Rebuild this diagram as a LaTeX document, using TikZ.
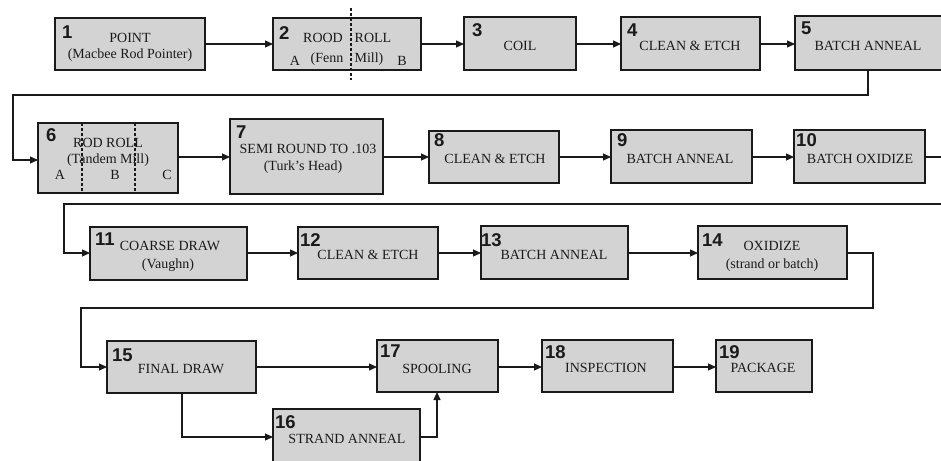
\documentclass[tikz,border=0pt]{standalone}
\usepackage{fontspec}
\setmainfont{Liberation Serif}
\newfontfamily\numfont{Liberation Sans}
\usetikzlibrary{arrows.meta}
\definecolor{boxfill}{HTML}{D3D3D3}
\definecolor{inkline}{HTML}{1A1A1A}
\tikzset{
  stepbox/.style={draw=inkline, line width=1.1pt, fill=boxfill, inner sep=0pt},
  num/.style={font=\numfont\bfseries\fontsize{18.5}{18.5}\selectfont, anchor=base west, inner sep=0pt, text=inkline},
  lbl/.style={font=\fontsize{14}{14}\selectfont, anchor=base, inner sep=0pt, text=inkline},
  conn/.style={draw=inkline, line width=1.1pt, -{Triangle[length=8pt,width=7pt]}},
  plainconn/.style={draw=inkline, line width=1.1pt},
  divider/.style={draw=inkline, line width=1.2pt, dash pattern=on 3pt off 2pt}
}
\begin{document}
\begin{tikzpicture}[x=1pt,y=-1pt]
\useasboundingbox (0,0) rectangle (941,460);
\clip (0,0) rectangle (941,460);
\fill[white] (0,0) rectangle (941,460);
% boxes
\path[stepbox] (55,18) rectangle (205,70) node[midway] (b1) {};
\path[stepbox] (273,18) rectangle (421,70) node[midway] (b2) {};
\path[stepbox] (464,17) rectangle (576,70) node[midway] (b3) {};
\path[stepbox] (621,17) rectangle (760,70) node[midway] (b4) {};
\path[stepbox] (795,16) rectangle (960,70) node[midway] (b5) {};
\path[stepbox] (38,123) rectangle (178,193) node[midway] (b6) {};
\path[stepbox] (230,119) rectangle (383,194) node[midway] (b7) {};
\path[stepbox] (429,131) rectangle (559,183) node[midway] (b8) {};
\path[stepbox] (611,130) rectangle (752,183) node[midway] (b9) {};
\path[stepbox] (794,130) rectangle (925,183) node[midway] (b10) {};
\path[stepbox] (90,227) rectangle (247,280) node[midway] (b11) {};
\path[stepbox] (298,227) rectangle (438,279) node[midway] (b12) {};
\path[stepbox] (481,226) rectangle (628,279) node[midway] (b13) {};
\path[stepbox] (698,226) rectangle (847,279) node[midway] (b14) {};
\path[stepbox] (107,341) rectangle (256,393) node[midway] (b15) {};
\path[stepbox] (273,409) rectangle (420,475) node[midway] (b16) {};
\path[stepbox] (377,340) rectangle (498,392) node[midway] (b17) {};
\path[stepbox] (542,340) rectangle (673,392) node[midway] (b18) {};
\path[stepbox] (716,340) rectangle (812,392) node[midway] (b19) {};
% anchor coordinates on box edges
\coordinate (b1e) at (205,44); \coordinate (b2w) at (273,44);
\coordinate (b2e) at (421,44); \coordinate (b3w) at (464,44);
\coordinate (b3e) at (576,44); \coordinate (b4w) at (621,44);
\coordinate (b4e) at (760,44); \coordinate (b5w) at (795,44);
\coordinate (b5s) at (868,70); \coordinate (b6w) at (38,160);
\coordinate (b6e) at (178,157); \coordinate (b7w) at (230,157);
\coordinate (b7e) at (383,157); \coordinate (b8w) at (429,157);
\coordinate (b8e) at (559,157); \coordinate (b9w) at (611,157);
\coordinate (b9e) at (752,157); \coordinate (b10w) at (794,157);
\coordinate (b10e) at (925,157); \coordinate (b11w) at (90,253);
\coordinate (b11e) at (247,253); \coordinate (b12w) at (298,253);
\coordinate (b12e) at (438,253); \coordinate (b13w) at (481,253);
\coordinate (b13e) at (628,253); \coordinate (b14w) at (698,253);
\coordinate (b14e) at (847,253); \coordinate (b15w) at (107,367);
\coordinate (b15e) at (256,367); \coordinate (b17w) at (377,367);
\coordinate (b15s) at (182,393); \coordinate (b16w) at (273,437);
\coordinate (b16e) at (420,437); \coordinate (b17s) at (437,392);
\coordinate (b17e) at (498,367); \coordinate (b18w) at (542,367);
\coordinate (b18e) at (673,367); \coordinate (b19w) at (716,367);
\coordinate (edgeR) at (960,157);
% dashed dividers
\draw[divider] (351,8) -- (351,80);
\draw[divider] (82,123) -- (82,193);
\draw[divider] (135,123) -- (135,193);
% connectors
\draw[conn] (b1e) -- (b2w);
\draw[conn] (b2e) -- (b3w);
\draw[conn] (b3e) -- (b4w);
\draw[conn] (b4e) -- (b5w);
\draw[conn] (b5s) -- (868,95) -- (13,95) -- (13,160) -- (b6w);
\draw[conn] (b6e) -- (b7w);
\draw[conn] (b7e) -- (b8w);
\draw[conn] (b8e) -- (b9w);
\draw[conn] (b9e) -- (b10w);
\draw[plainconn] (b10e) -- (edgeR);
\draw[conn] (960,204) -- (64,204) -- (64,253) -- (b11w);
\draw[conn] (b11e) -- (b12w);
\draw[conn] (b12e) -- (b13w);
\draw[conn] (b13e) -- (b14w);
\draw[conn] (b14e) -- (873,253) -- (873,308) -- (81,308) -- (81,367) -- (b15w);
\draw[conn] (b15e) -- (b17w);
\draw[conn] (b15s) -- (182,437) -- (b16w);
\draw[conn] (b16e) -- (437,437) -- (b17s);
\draw[conn] (b17e) -- (b18w);
\draw[conn] (b18e) -- (b19w);
% numbers
\node[num] (n1) at (62,38) {1};
\node[num] (n2) at (279,40) {2};
\node[num] (n3) at (472,37) {3};
\node[num] (n4) at (627,37) {4};
\node[num] (n5) at (801,35) {5};
\node[num] (n6) at (46,141) {6};
\node[num] (n7) at (236,138) {7};
\node[num] (n8) at (434,146) {8};
\node[num] (n9) at (617,146) {9};
\node[num] (n10) at (796,146) {10};
\node[num] (n11) at (95,245) {11};
\node[num] (n12) at (300,246) {12};
\node[num] (n13) at (481,246) {13};
\node[num] (n14) at (702,246) {14};
\node[num] (n15) at (112,361) {15};
\node[num] (n16) at (275,428) {16};
\node[num] (n17) at (380,357) {17};
\node[num] (n18) at (545,358) {18};
\node[num] (n19) at (719,358) {19};
% labels
\node[lbl] (t1a) at (130,42) {POINT};
\node[lbl] (t1b) at (130,59) {(Macbee Rod Pointer)};
\node[lbl] (t2a) at (323,42) {ROOD};
\node[lbl] (t2b) at (373,42) {ROLL};
\node[lbl] (t2c) at (295,65) {A};
\node[lbl] (t2d) at (327,63) {(Fenn};
\node[lbl] (t2e) at (369,63) {Mill)};
\node[lbl] (t2f) at (402,65) {B};
\node[lbl] (t3) at (520,50) {COIL};
\node[lbl] (t4) at (690,50) {CLEAN \& ETCH};
\node[lbl] (t5) at (868,50) {BATCH ANNEAL};
\node[lbl] (t6a) at (108,147) {ROD ROLL};
\node[lbl] (t6b) at (108,163) {(Tandem Mill)};
\node[lbl] (t6c) at (60,179) {A};
\node[lbl] (t6d) at (115,179) {B};
\node[lbl] (t6e) at (167,179) {C};
\node[lbl] (t7a) at (308,153) {SEMI ROUND TO .103};
\node[lbl] (t7b) at (303,170) {(Turk's Head)};
\node[lbl] (t8) at (495,163) {CLEAN \& ETCH};
\node[lbl] (t9) at (680,163) {BATCH ANNEAL};
\node[lbl] (t10) at (860,163) {BATCH OXIDIZE};
\node[lbl] (t11a) at (170,250) {COARSE DRAW};
\node[lbl] (t11b) at (168,268) {(Vaughn)};
\node[lbl] (t12) at (368,259) {CLEAN \& ETCH};
\node[lbl] (t13) at (554,259) {BATCH ANNEAL};
\node[lbl] (t14a) at (772,250) {OXIDIZE};
\node[lbl] (t14b) at (772,268) {(strand or batch)};
\node[lbl] (t15) at (181,373) {FINAL DRAW};
\node[lbl] (t16) at (347,443) {STRAND ANNEAL};
\node[lbl] (t17) at (437,373) {SPOOLING};
\node[lbl] (t18) at (606,372) {INSPECTION};
\node[lbl] (t19) at (763,372) {PACKAGE};
\end{tikzpicture}
\end{document}
